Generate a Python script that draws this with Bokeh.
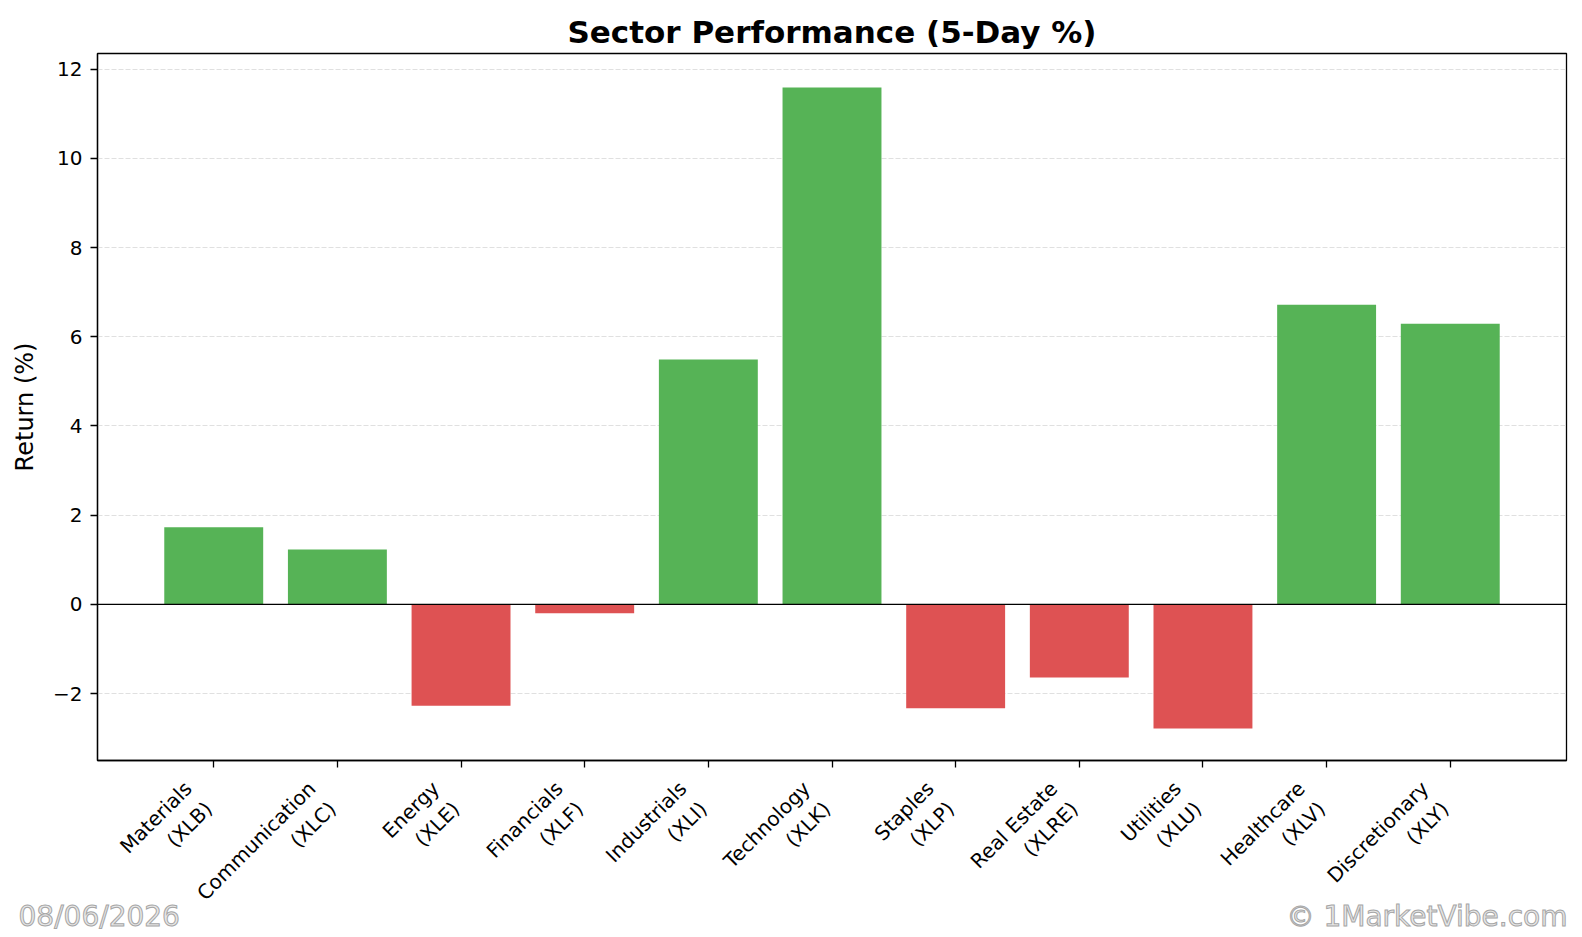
from bokeh.plotting import figure
from bokeh.layouts import column
from bokeh.models import ColumnDataSource, Range1d, FixedTicker, Span, Label
from bokeh.core.properties import value
from bokeh.embed import file_html
from bokeh.resources import INLINE
from math import pi, sqrt

sectors = ["Materials", "Communication", "Energy", "Financials", "Industrials",
           "Technology", "Staples", "Real Estate", "Utilities", "Healthcare",
           "Discretionary"]
tickers = ["XLB", "XLC", "XLE", "XLF", "XLI", "XLK", "XLP", "XLRE", "XLU",
           "XLV", "XLY"]
returns = [1.73, 1.23, -2.27, -0.20, 5.49, 11.59, -2.33, -1.64, -2.78, 6.72, 6.29]
y_ticks = [-2, 0, 2, 4, 6, 8, 10, 12]
date_text = "08/06/2026"
brand_text = "\u00a9 1MarketVibe.com"

GREEN = "#56b356"
RED = "#de5253"
FONT = "DejaVu Sans"

W = 1578
LEFT, RIGHT = 97, 12
H_MAIN, H_LOW = 770, 163
XFS = 20  # x tick label font size (px)
X0, X1 = -0.94, 10.94

xs = list(range(len(sectors)))
colors = [GREEN if r >= 0 else RED for r in returns]
labels = [f"{s}\n({t})" for s, t in zip(sectors, tickers)]
src = ColumnDataSource(dict(x=xs, top=returns, color=colors))

p = figure(width=W, height=H_MAIN, output_backend="svg", toolbar_location=None,
           x_range=Range1d(X0, X1), y_range=Range1d(-3.50, 12.35),
           min_border_left=LEFT, min_border_right=RIGHT, min_border_top=53,
           min_border_bottom=10)
p.frame_align = False

p.vbar(x="x", top="top", bottom=0, width=0.8, color="color", source=src,
       line_color=None)

p.add_layout(Span(location=0, dimension="width", line_color="black",
                  line_width=1.4))

# title
p.title.text = "Sector Performance (5-Day %)"
p.title.align = "center"
p.title.text_font = FONT
p.title.text_font_size = "31px"
p.title.text_font_style = "bold"
p.title.text_color = "black"
p.title.standoff = 8

# axes
xa = p.xaxis[0]
xa.ticker = FixedTicker(ticks=xs)
xa.major_label_overrides = {i: "" for i in xs}
xa.major_label_text_font_size = "1px"
xa.major_label_standoff = 0
ya = p.yaxis[0]
ya.ticker = FixedTicker(ticks=y_ticks)
ya.axis_label = "Return (%)"
ya.axis_label_text_font_style = "normal"

for ax in (xa, ya):
    ax.axis_line_color = "black"
    ax.axis_line_width = 1.3
    ax.major_tick_line_color = "black"
    ax.major_tick_line_width = 1.3
    ax.major_tick_out = 7
    ax.major_tick_in = 0
    ax.minor_tick_line_color = None
    ax.major_label_text_font = FONT
    ax.major_label_text_color = "black"
    ax.axis_label_text_font = FONT
    ax.axis_label_text_color = "black"

ya.major_label_text_font_size = "20px"
ya.axis_label_text_font_size = "24px"
ya.major_label_standoff = 8
ya.axis_label_standoff = 11

p.outline_line_color = "black"
p.outline_line_width = 1.3
p.outline_line_alpha = 1.0

p.xgrid.grid_line_color = None
p.ygrid.grid_line_color = "#e0e0e0"
p.ygrid.grid_line_dash = "5 2"
p.ygrid.grid_line_width = 1.2

# lower panel: tick labels + watermarks; its frame spans the whole width,
# with an x scale that lines up with the main chart's x scale
px_per_unit = (W - LEFT - RIGHT) / (X1 - X0)
low = figure(width=W, height=H_LOW, output_backend="svg", toolbar_location=None,
             x_range=Range1d(X0 - LEFT / px_per_unit, X1 + RIGHT / px_per_unit),
             y_range=Range1d(0, H_LOW),
             min_border_left=0, min_border_right=0, min_border_top=0,
             min_border_bottom=0, x_axis_location=None, y_axis_location=None)
low.frame_align = False
low.outline_line_color = None
low.grid.grid_line_color = None
box_h = 2 * 1.2 * XFS
low.text(x=xs, y=[H_LOW - 6] * len(xs), text=labels, angle=pi / 4,
         x_offset=-box_h / sqrt(2), text_align="right", text_baseline="top",
         text_font=value(FONT), text_font_size=f"{XFS}px", text_color="black",
         text_line_height=1.2)

for txt, x, align in ((date_text, 18, "left"), (brand_text, 1567, "right")):
    low.add_layout(Label(x=x, y=17, x_units="screen", y_units="screen", text=txt,
                         text_font=FONT, text_font_size="28px",
                         text_color="#e8e8e8", text_outline_color="#a6a6a6",
                         text_align=align, text_baseline="alphabetic"))

layout = column(p, low, spacing=0)
open("out.html", "w").write(file_html(layout, INLINE))
